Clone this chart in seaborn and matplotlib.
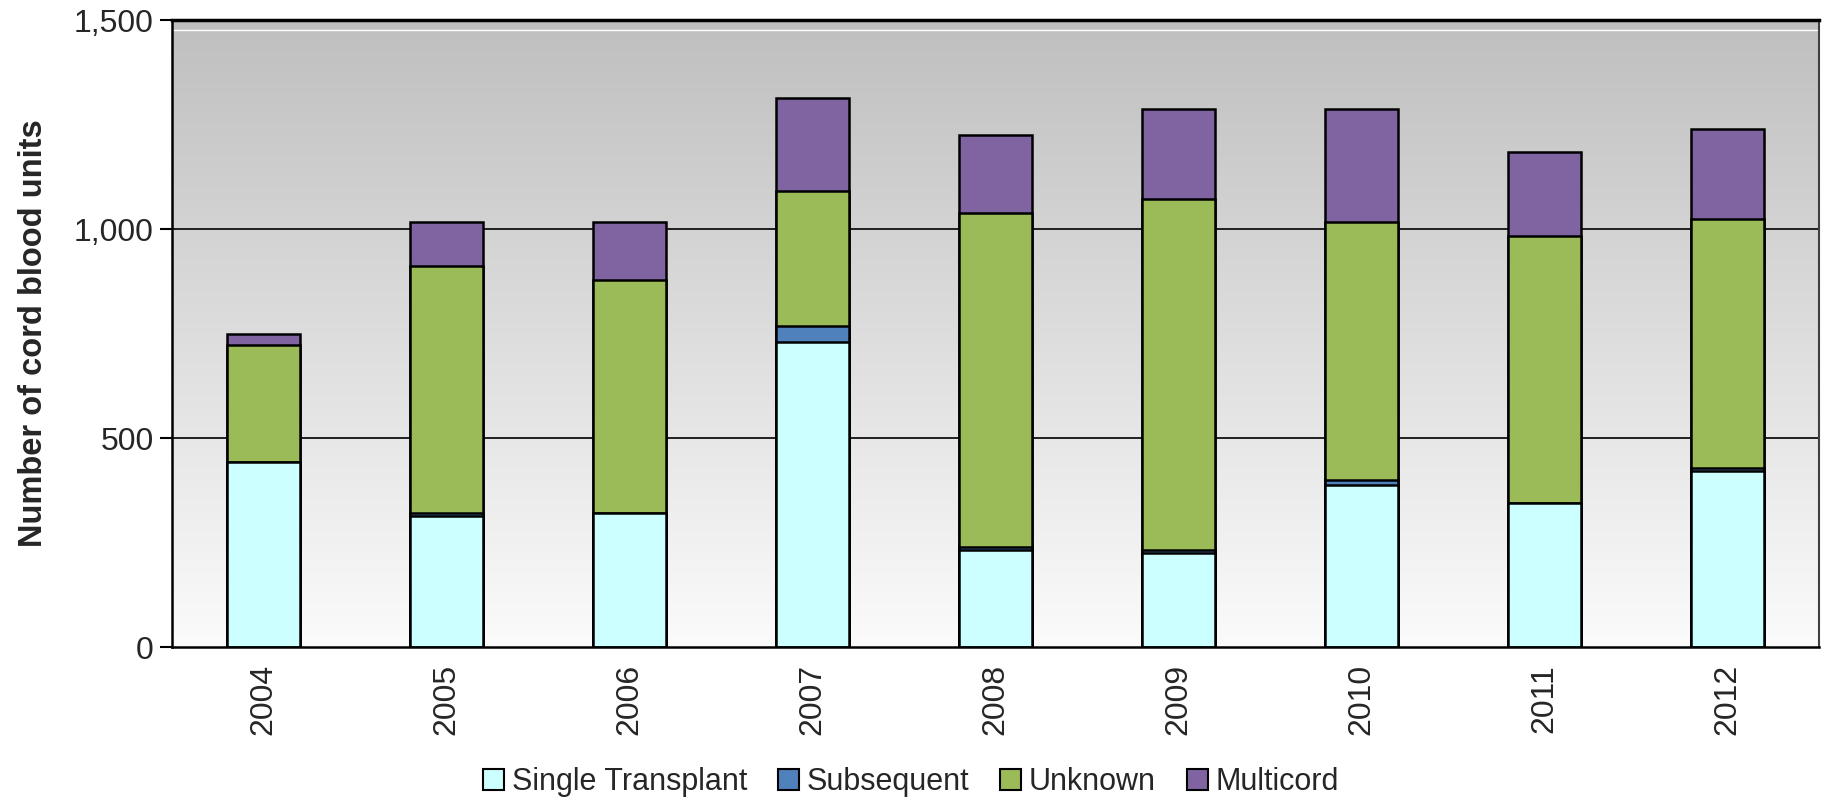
import matplotlib.pyplot as plt
import matplotlib.ticker as mticker
from matplotlib.patches import Patch
from matplotlib.colors import LinearSegmentedColormap
import numpy as np
import pandas as pd
import seaborn as sns

# values
years = ["2004", "2005", "2006", "2007", "2008", "2009", "2010", "2011", "2012"]
single = [442, 314, 320, 729, 232, 225, 387, 345, 421]
subsequent = [0, 7, 2, 39, 8, 7, 14, 0, 7]
unknown = [281, 590, 556, 323, 798, 839, 616, 638, 595]
multicord = [25, 106, 139, 223, 187, 216, 270, 202, 217]

series_names = ["Single Transplant", "Subsequent", "Unknown", "Multicord"]
series_colors = ["#ccffff", "#4f81bd", "#9bbb59", "#8064a2"]

sns.set_style("white")
plt.rcParams['font.family'] = ['Liberation Sans', 'DejaVu Sans']

df = pd.DataFrame({"year": years, "Single Transplant": single, "Subsequent": subsequent,
                   "Unknown": unknown, "Multicord": multicord})
cum = df[series_names].cumsum(axis=1)

fig = plt.figure(figsize=(18.22, 8), dpi=100)
ax = fig.add_axes([0.0944, 0.191, 0.904, 0.784])

# gray gradient background, darker at the top
grad = np.linspace(0, 1, 256).reshape(-1, 1)
cmap = LinearSegmentedColormap.from_list("bg", ["#bfbfbf", "#fbfbfb"])
ax.imshow(grad, extent=[-0.5, 8.5, 0, 1500], aspect="auto", cmap=cmap, zorder=0)
ax.axhline(1475, color="white", lw=1, zorder=0.5)
for g in [500, 1000]:
    ax.axhline(g, color="black", lw=1.2, zorder=0.6)

# stacked bars: draw cumulative totals from the top series down
for name, col in zip(series_names[::-1], series_colors[::-1]):
    sns.barplot(x=df["year"], y=cum[name], color=col, width=0.4, edgecolor="black",
                linewidth=1.8, saturation=1, ax=ax, zorder=2)

ax.set_xlim(-0.5, 8.5)
ax.set_ylim(0, 1500)
ax.yaxis.set_major_locator(mticker.MultipleLocator(500))
ax.yaxis.set_major_formatter(mticker.StrMethodFormatter("{x:,.0f}"))
ax.set_xticks(np.arange(-0.5, 9, 1), minor=True)
ax.tick_params(axis="x", which="major", length=0, labelsize=23, rotation=90, pad=12)
ax.tick_params(axis="x", which="minor", length=9, width=1.5, color="black", direction="out")
ax.tick_params(axis="y", length=9, width=1.5, color="black", direction="out", labelsize=23,
               left=True, pad=4)
ax.set_xlabel("")
ax.set_ylabel("Number of cord blood units", fontsize=23.5, fontweight="bold", labelpad=18)

for side in ["left", "bottom", "top"]:
    ax.spines[side].set_color("black")
    ax.spines[side].set_linewidth(1.8)
ax.spines["right"].set_color("#404040")
ax.spines["right"].set_linewidth(1.5)
ax.spines["top"].set_linewidth(2.5)

handles = [Patch(facecolor=c, edgecolor="black", linewidth=1.5) for c in series_colors]
fig.legend(handles, series_names, loc="lower center", bbox_to_anchor=(0.5, -0.031), ncol=4,
           frameon=False, fontsize=22, handlelength=0.7, handleheight=0.7,
           handletextpad=0.25, columnspacing=1.0)

fig.savefig("out.png", dpi=100)
